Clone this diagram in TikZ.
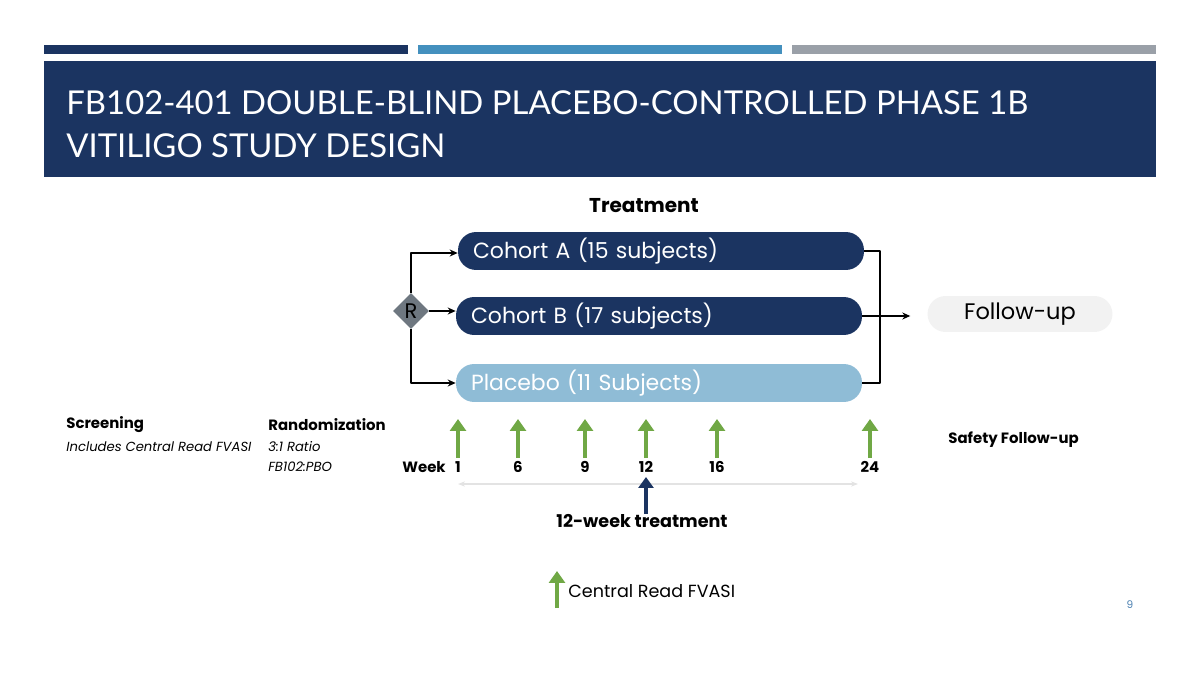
\documentclass[tikz,border=0pt]{standalone}
\usepackage{fontspec}
\setmainfont{Poppins}
\newfontfamily\titlefont{Lato}
\usetikzlibrary{arrows.meta,shapes.geometric}
\definecolor{navy}{HTML}{1B3461}
\definecolor{midblue}{HTML}{4490BE}
\definecolor{bargray}{HTML}{9AA0A8}
\definecolor{placeboblue}{HTML}{8FBCD6}
\definecolor{followgray}{HTML}{F2F2F2}
\definecolor{visitgreen}{HTML}{70A845}
\definecolor{diamondgray}{HTML}{6E7780}
\definecolor{spangray}{HTML}{E3E3E3}
\definecolor{pageblue}{HTML}{4A7FB0}

\begin{document}
\begin{tikzpicture}[
  x=0.02cm,
  y=-0.02cm,
  line join=round,
  cohort/.style={fill=#1,text=white,rounded corners=0.36cm,minimum height=0.72cm,
    text width=7.52cm,inner xsep=0.3cm,align=left,font=\fontsize{12.5}{15}\selectfont},
  link/.style={draw=black,line width=0.8pt},
  linkarrow/.style={link,-{Stealth[length=1.6mm,width=1.4mm]}},
  visit/.style={draw=visitgreen,line width=1.9pt,-{Triangle[length=2.4mm,width=3.2mm]}},
  label/.style={inner sep=0pt,anchor=west,font=\fontsize{8.5}{10}\selectfont\bfseries},
  note/.style={inner sep=0pt,anchor=west,font=\fontsize{7.5}{9}\selectfont\itshape},
  weeknum/.style={inner sep=0pt,font=\fontsize{8.5}{10}\selectfont\bfseries}
]
  \useasboundingbox (0,0) rectangle (1200,675);

  % Header bars and title band.
  \fill[navy] (44,45) rectangle (408,54);
  \fill[midblue] (418,45) rectangle (782,54);
  \fill[bargray] (792,45) rectangle (1156,54);
  \fill[navy] (44,61) rectangle (1156,177);
  \node[anchor=west,inner sep=0pt,text=white,align=left,
    font=\titlefont\fontsize{18.7}{24.4}\selectfont] (title) at (66,124)
    {FB102-401 DOUBLE-BLIND PLACEBO-CONTROLLED PHASE 1B\\VITILIGO STUDY DESIGN};

  % Treatment arms.
  \node[font=\fontsize{11.4}{13}\selectfont\bfseries] (treatment) at (644,206) {Treatment};
  \node[cohort=navy] (cohortA) at (661,251) {Cohort A (15 subjects)};
  \node[cohort=navy] (cohortB) at (659,316) {Cohort B (17 subjects)};
  \node[cohort=placeboblue] (placebo) at (659,383) {Placebo (11 Subjects)};
  \node[diamond,fill=diamondgray,minimum size=0.72cm,inner sep=0pt,
    font=\fontsize{12}{14}\selectfont] (rand) at (411,311) {R};
  \node[fill=followgray,rounded corners=0.36cm,minimum width=3.7cm,minimum height=0.72cm,
    font=\fontsize{12.8}{15}\selectfont] (followup) at (1020,314) {Follow-up};

  % Randomisation and convergence connectors.
  \coordinate (splitA) at (413,253);
  \coordinate (splitP) at (413,383);
  \coordinate (joinA) at (880,251);
  \coordinate (joinP) at (880,383);
  \draw[linkarrow] (rand.north) |- (cohortA.west |- splitA);
  \draw[linkarrow] (rand.east) -- (cohortB.west |- rand.east);
  \draw[linkarrow] (rand.south) |- (placebo.west);
  \draw[link] (cohortA.east) -- (joinA) -- (joinP) -- (placebo.east);
  \draw[linkarrow] (cohortB.east) -- ++(48,0);

  % Study phases.
  \node[label] (screening) at (66,425) {Screening};
  \node[note] (screeningnote) at (66,447) {Includes Central Read FVASI};
  \node[label] (randomization) at (268,425) {Randomization};
  \node[note] (ratio) at (268,447) {3:1 Ratio};
  \node[note] (arms) at (268,467) {FB102:PBO};
  \node[label] (safety) at (948,440) {Safety Follow-up};

  % Visit timeline.
  \node[label] (week) at (402,467) {Week};
  \foreach \w/\px in {1/458,6/518,9/585,12/646,16/717,24/870} {
    \node[weeknum] (wk\w) at (\px,467) {\w};
    \draw[visit] (\px,458) -- (\px,419);
  }
  \draw[draw=spangray,line width=1pt,{Stealth[length=1.4mm]}-{Stealth[length=1.4mm]}]
    (458,484) -- (858,484);
  \draw[draw=navy,line width=2pt,-{Triangle[length=2.2mm,width=3mm]}] (646,514) -- (646,477);
  \node[font=\fontsize{10}{12}\selectfont\bfseries] (span) at (642,521) {12-week treatment};

  % Legend and page number.
  \draw[visit] (557,608) -- (557,571);
  \node[anchor=west,inner sep=0pt,font=\fontsize{10}{12}\selectfont] (legend) at (568,591)
    {Central Read FVASI};
  \node[text=pageblue,font=\fontsize{6}{7}\selectfont] (page) at (1130,605) {9};
\end{tikzpicture}
\end{document}
